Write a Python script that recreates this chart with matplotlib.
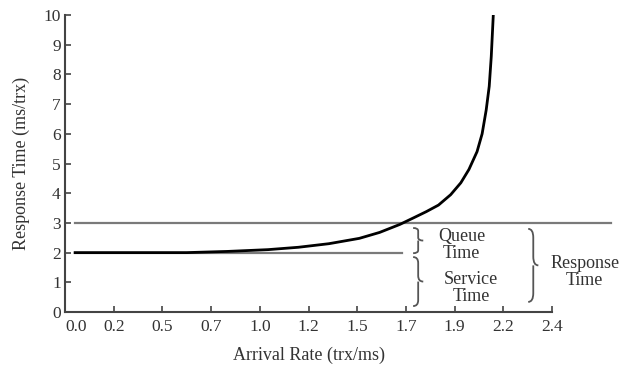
import numpy as np
import matplotlib.pyplot as plt
from matplotlib.path import Path
from matplotlib.patches import PathPatch

plt.rcParams['font.family'] = ['Liberation Serif', 'DejaVu Serif']

# tick positions are evenly spaced, labels as printed on the original
tick_pos = np.linspace(0, 2.4, 11)
tick_labels = ['0.0', '0.2', '0.5', '0.7', '1.0', '1.2', '1.5', '1.7', '1.9', '2.2', '2.4']

# response time curve
rate = [0.05, 0.3, 0.6, 0.8, 1.0, 1.15, 1.3, 1.45, 1.55, 1.65, 1.72, 1.78,
        1.84, 1.9, 1.95, 1.99, 2.03, 2.055, 2.075, 2.09, 2.1, 2.11]
resp = [2.0, 2.0, 2.0, 2.04, 2.1, 2.18, 2.3, 2.48, 2.68, 2.95, 3.18, 3.38,
        3.6, 3.95, 4.35, 4.8, 5.4, 6.0, 6.8, 7.6, 8.6, 10.0]

service_time = 2.0
response_level = 3.0


def brace(ax, x, y0, y1, w, **kw):
    # right-pointing curly brace between y0 and y1
    m = (y0 + y1) / 2
    dy = (y1 - y0) * 0.12
    verts = [(x, y1), (x + w / 2, y1), (x + w / 2, y1 - dy),
             (x + w / 2, m + dy),
             (x + w / 2, m), (x + w, m),
             (x + w / 2, m), (x + w / 2, m - dy),
             (x + w / 2, y0 + dy),
             (x + w / 2, y0), (x, y0)]
    codes = [Path.MOVETO, Path.CURVE3, Path.CURVE3, Path.LINETO,
             Path.CURVE3, Path.CURVE3, Path.MOVETO, Path.CURVE3,
             Path.LINETO, Path.CURVE3, Path.CURVE3]
    ax.add_patch(PathPatch(Path(verts, codes), fill=False, **kw))


fig = plt.figure(figsize=(6.26, 3.71), dpi=100)
ax = fig.add_axes([0.1038, 0.159, 0.882, 0.8005])

ax.plot([0.05, 2.69], [response_level, response_level], color='#7a7a7a', lw=1.6)
ax.plot([0.05, 1.66], [service_time, service_time], color='#7a7a7a', lw=1.6)
ax.plot(rate, resp, color='black', lw=2.0)

ax.set_xlim(0, 2.72)
ax.set_ylim(0, 10)
ax.spines['top'].set_visible(False)
ax.spines['right'].set_visible(False)
ax.spines['bottom'].set_bounds(0, 2.4)
for s in ['left', 'bottom']:
    ax.spines[s].set_linewidth(1.5)
    ax.spines[s].set_color('#444444')

ax.set_xticks(tick_pos)
ax.set_xticklabels(tick_labels)
ax.set_yticks(range(11))
ax.tick_params(direction='in', length=4, width=1.2, color='#444444',
               labelsize=12.5, labelcolor='#333333')
ax.tick_params(axis='x', pad=5)
ax.tick_params(axis='y', pad=3)
ax.get_xticklabels()[0].set_ha('left')

ax.set_xlabel('Arrival Rate (trx/ms)', fontsize=13, color='#333333')
ax.xaxis.set_label_coords(1.2 / 2.72, -0.118)
ax.set_ylabel('Response Time (ms/trx)', fontsize=13, color='#333333')
ax.yaxis.set_label_coords(-0.063, 0.5)

bk = dict(color='#555555', lw=1.3)
brace(ax, 1.715, 1.98, 2.83, 0.05, **bk)
brace(ax, 1.715, 0.2, 1.85, 0.05, **bk)
brace(ax, 2.282, 0.34, 2.8, 0.05, **bk)

tk = dict(fontsize=13, color='#333333', ha='center', va='center', linespacing=1.05)
ax.text(1.955, 2.26, 'Queue\nTime', **tk)
ax.text(2.0, 0.81, 'Service\nTime', **tk)
ax.text(2.56, 1.35, 'Response\nTime', **tk)

fig.savefig('out.png', dpi=100)
